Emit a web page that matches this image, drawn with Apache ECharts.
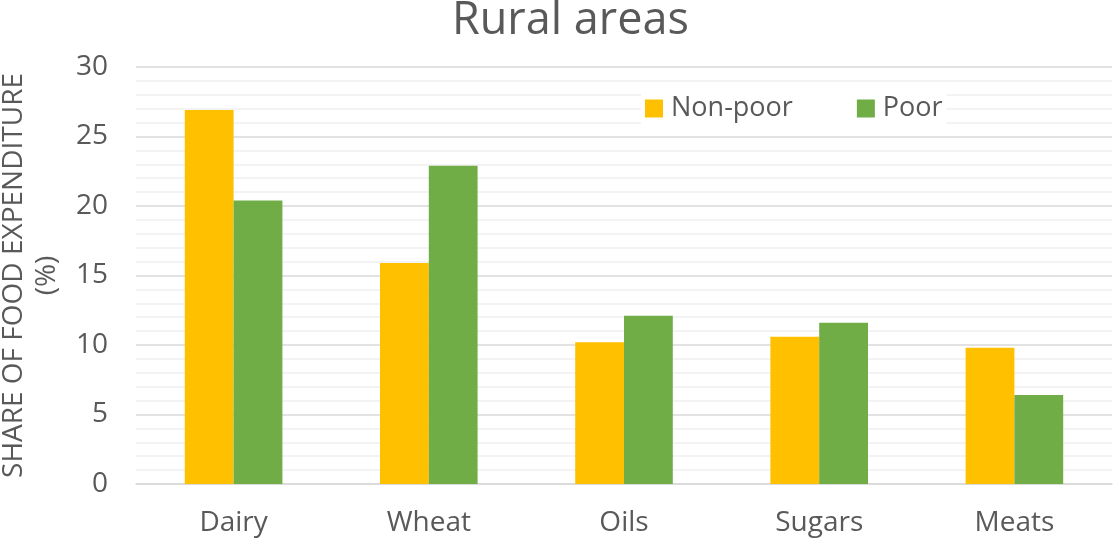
<!DOCTYPE html>
<html>
<head>
<meta charset="utf-8">
<script src="https://cdn.jsdelivr.net/npm/echarts@6/dist/echarts.min.js"></script>
<style>
  html, body { margin: 0; padding: 0; background: #fff; }
  #chart { width: 1115px; height: 540px; }
</style>
</head>
<body>
<div id="chart"></div>
<script>
const categories = ['Dairy', 'Wheat', 'Oils', 'Sugars', 'Meats']
const nonPoor = [26.9, 15.9, 10.2, 10.6, 9.8]
const poor = [20.4, 22.9, 12.1, 11.6, 6.4]

const font = 'Open Sans'
const textColor = '#595959'

const chart = echarts.init(document.getElementById('chart'))

chart.setOption({
  animation: false,
  textStyle: { fontFamily: font },
  title: {
    text: 'Rural areas',
    left: 447,
    top: -6,
    textStyle: { fontSize: 45, fontWeight: 'normal', color: textColor, fontFamily: font },
  },
  legend: {
    data: ['Non-poor', 'Poor'],
    left: 641,
    top: 93,
    icon: 'rect',
    itemWidth: 18,
    itemHeight: 18,
    itemGap: 64,
    backgroundColor: '#fff',
    padding: [2, 4],
    textStyle: { fontSize: 27, color: textColor, fontFamily: font, padding: [0, 0, 0, 3] },
  },
  grid: { left: 136, right: 3, top: 67, bottom: 56, outerBoundsMode: 'none', containLabel: false },
  xAxis: {
    type: 'category',
    data: categories,
    axisLine: { lineStyle: { color: '#d9d9d9', width: 1.5 } },
    axisTick: { show: false },
    axisLabel: { color: textColor, fontSize: 28, margin: 25, fontFamily: font },
  },
  yAxis: {
    type: 'value',
    min: 0,
    max: 30,
    interval: 5,
    name: 'SHARE OF FOOD EXPENDITURE\n(%)',
    nameLocation: 'middle',
    nameGap: 72,
    nameTextStyle: { fontSize: 28, color: textColor, lineHeight: 33, fontFamily: font },
    axisLine: { show: false },
    axisTick: { show: false },
    axisLabel: { color: textColor, fontSize: 28, margin: 28, fontFamily: font },
    splitLine: { lineStyle: { color: '#d9d9d9', width: 1.5 } },
    minorTick: { show: false, splitNumber: 5 },
    minorSplitLine: { show: true, lineStyle: { color: '#f0f0f0', width: 1.5 } },
  },
  series: [
    {
      name: 'Non-poor',
      type: 'bar',
      data: nonPoor,
      barGap: '0%',
      barCategoryGap: '50%',
      itemStyle: { color: '#FFC000' },
    },
    {
      name: 'Poor',
      type: 'bar',
      data: poor,
      barGap: '0%',
      barCategoryGap: '50%',
      itemStyle: { color: '#70AD47' },
    },
  ],
})
</script>
</body>
</html>
